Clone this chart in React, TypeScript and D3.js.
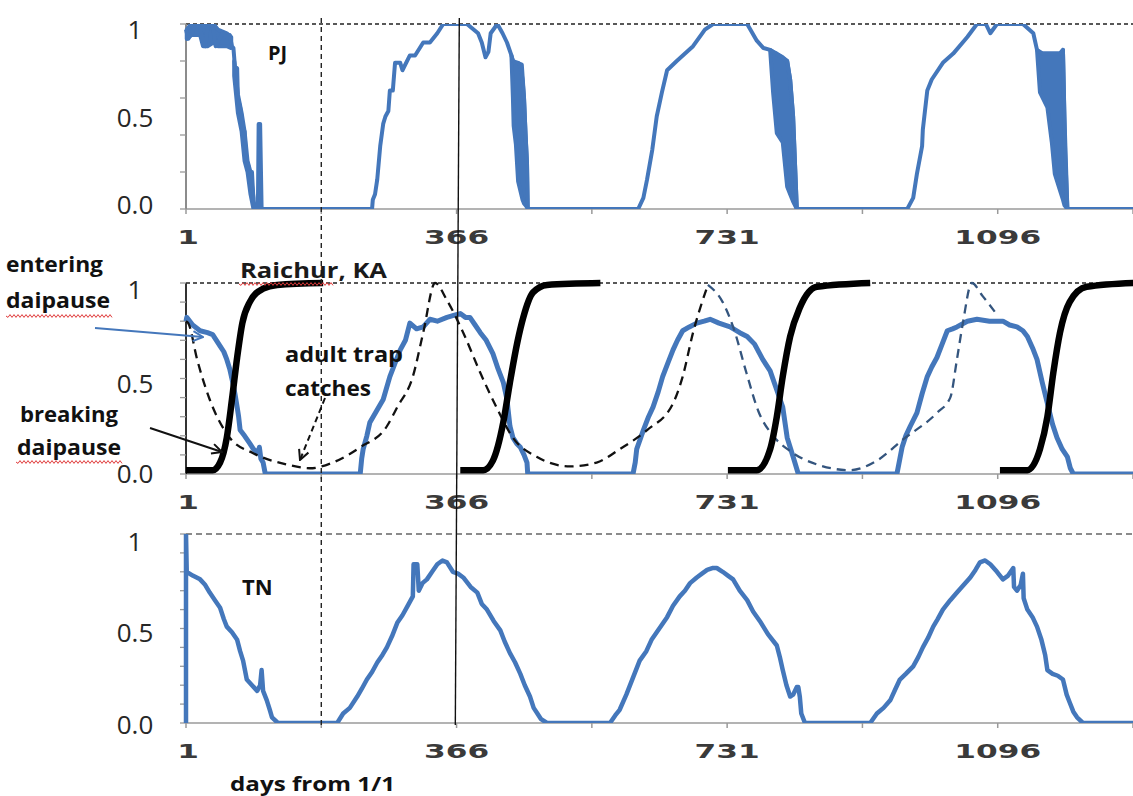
import React from "react";
import * as d3 from "d3";

type Pt = [number, number];
type Band = [number, number, number]; // day, low, high

// x = day counted from 1 Jan, y = fraction (0..1)

// PJ – blue series (upper trace)
const pjSeries: Pt[] = [
  [1, 0.97], [4, 0.92], [9, 0.95], [13, 1.0], [20, 0.98], [24, 0.9], [27, 0.88], [30, 0.98], [35, 1.0],
  [38, 0.97], [41, 0.88], [44, 0.9], [50, 0.95], [56, 0.93], [60, 0.94], [63, 0.88], [65, 0.87], [67, 0.77],
  [70, 0.76], [71, 0.6], [74, 0.55], [76, 0.5], [77, 0.43], [80, 0.42], [82, 0.26], [84, 0.25], [86, 0.22],
  [88, 0.12], [90, 0.2], [92, 0.05], [94, 0], [98, 0], [99, 0.46], [101, 0.46], [103, 0],
  [252, 0], [253, 0.05], [256, 0.08], [259, 0.16], [263, 0.34], [267, 0.46], [270, 0.5], [274, 0.53],
  [276, 0.64], [280, 0.64], [283, 0.79], [290, 0.79], [293, 0.75], [303, 0.83], [310, 0.83], [321, 0.9],
  [330, 0.9], [340, 0.95], [348, 1.0], [380, 1.0], [395, 0.95], [400, 0.9], [405, 0.82], [409, 0.85],
  [412, 0.95], [421, 1.0], [428, 0.95], [434, 0.9], [440, 0.83], [442, 0.8], [454, 0.78], [457, 0.6],
  [459, 0.41], [461, 0.25], [462, 0],
  [611, 0], [618, 0.06], [623, 0.16], [630, 0.32], [636, 0.5], [643, 0.63], [650, 0.75], [663, 0.8],
  [685, 0.88], [701, 0.97], [712, 1.0], [758, 1.0], [771, 0.91], [780, 0.87], [789, 0.86], [812, 0.8],
  [816, 0.7], [820, 0.5], [825, 0],
  [974, 0], [982, 0.06], [987, 0.19], [994, 0.34], [995, 0.43], [1001, 0.64], [1007, 0.7], [1022, 0.79],
  [1036, 0.84], [1055, 0.93], [1068, 1.0], [1080, 1.0], [1086, 0.95], [1095, 1.0], [1130, 1.0], [1144, 0.95],
  [1149, 0.86], [1157, 0.84], [1180, 0.84], [1184, 0.86], [1187, 0.3], [1190, 0], [1280, 0],
];

// PJ – noisy stretches where daily values swing between low and high
const pjBands: Band[][] = [
  [[2, 0.92, 0.97], [8, 0.94, 1.0], [20, 0.94, 1.0], [24, 0.88, 1.0], [30, 0.88, 1.0], [38, 0.9, 1.0], [44, 0.88, 0.97], [56, 0.88, 0.95], [62, 0.87, 0.93]],
  [[66, 0.72, 0.8], [71, 0.52, 0.62], [76, 0.42, 0.52], [80, 0.26, 0.42], [84, 0.2, 0.26], [88, 0.08, 0.2], [92, 0.0, 0.06]],
  [[440, 0.83, 0.83], [442, 0.6, 0.8], [443, 0.45, 0.8], [446, 0.35, 0.79], [449, 0.15, 0.79], [452, 0.1, 0.78], [455, 0.05, 0.7], [457, 0.03, 0.6], [459, 0.02, 0.41], [461, 0.01, 0.25], [462, 0, 0]],
  [[789, 0.86, 0.86], [793, 0.63, 0.85], [798, 0.41, 0.84], [806, 0.36, 0.82], [812, 0.12, 0.8], [816, 0.08, 0.7], [820, 0.04, 0.5], [825, 0, 0]],
  [[1149, 0.86, 0.86], [1153, 0.63, 0.84], [1163, 0.55, 0.84], [1169, 0.36, 0.84], [1173, 0.19, 0.84], [1180, 0.1, 0.84], [1184, 0.05, 0.86], [1186, 0.02, 0.5], [1190, 0, 0]],
];

// Raichur, KA – blue series
const raichurSeries: Pt[] = [
  [1, 0.8], [2, 0.82], [10, 0.78], [20, 0.75], [30, 0.74], [37, 0.73], [42, 0.7], [47, 0.67], [52, 0.64],
  [56, 0.6], [60, 0.55], [64, 0.48], [67, 0.42], [70, 0.35], [72, 0.3], [74, 0.23], [80, 0.2], [87, 0.16],
  [92, 0.13], [98, 0.11], [100, 0.14], [102, 0.08], [105, 0.06], [108, 0],
  [236, 0], [238, 0.08], [240, 0.13], [245, 0.2], [249, 0.27], [258, 0.33], [267, 0.39], [276, 0.51],
  [283, 0.58], [290, 0.65], [297, 0.7], [303, 0.79], [312, 0.76], [321, 0.77], [330, 0.81], [340, 0.8],
  [353, 0.82], [362, 0.83], [371, 0.84], [378, 0.82], [384, 0.82], [391, 0.78], [398, 0.74], [406, 0.7],
  [415, 0.63], [422, 0.55], [429, 0.48], [434, 0.39], [438, 0.25], [442, 0.19], [447, 0.16], [452, 0.14],
  [457, 0.1], [461, 0.06], [462, 0],
  [604, 0], [607, 0.06], [609, 0.13], [618, 0.23], [625, 0.3], [631, 0.35], [638, 0.43], [644, 0.51],
  [651, 0.58], [658, 0.65], [664, 0.7], [671, 0.75], [680, 0.77], [690, 0.79], [700, 0.8], [708, 0.81],
  [720, 0.79], [735, 0.77], [748, 0.74], [758, 0.72], [768, 0.68], [779, 0.6], [789, 0.54], [798, 0.44],
  [806, 0.35], [812, 0.19], [816, 0.14], [820, 0.09], [827, 0],
  [960, 0], [964, 0.08], [967, 0.14], [972, 0.2], [978, 0.25], [987, 0.32], [994, 0.42], [1001, 0.51],
  [1007, 0.56], [1014, 0.61], [1021, 0.68], [1028, 0.75], [1035, 0.76], [1041, 0.77], [1055, 0.8],
  [1068, 0.81], [1085, 0.8], [1103, 0.8], [1112, 0.78], [1122, 0.77], [1130, 0.75], [1136, 0.72],
  [1143, 0.66], [1149, 0.6], [1156, 0.48], [1163, 0.37], [1170, 0.26], [1176, 0.19], [1183, 0.13],
  [1190, 0.09], [1194, 0.03], [1198, 0], [1280, 0],
];

// adult trap catches (dashed), black part then blue-grey part
const trapCatchesA: Pt[] = [
  [1, 0.8], [4, 0.79], [16, 0.6], [33, 0.39], [60, 0.19], [91, 0.11], [137, 0.05], [168, 0.03], [199, 0.06],
  [236, 0.14], [272, 0.25], [286, 0.35], [307, 0.51], [321, 0.74], [337, 1.0], [353, 0.91], [375, 0.74],
  [398, 0.53], [421, 0.34], [442, 0.19], [474, 0.09], [519, 0.04], [555, 0.06], [586, 0.13], [623, 0.23],
  [658, 0.37], [671, 0.51], [685, 0.74], [705, 0.99],
];
const trapCatchesB: Pt[] = [
  [705, 0.99], [725, 0.9], [740, 0.76], [757, 0.53], [773, 0.33], [793, 0.2], [816, 0.12], [852, 0.05],
  [897, 0.02], [933, 0.07], [968, 0.18], [1014, 0.32], [1032, 0.4], [1041, 0.6], [1049, 0.79], [1061, 1.0],
  [1076, 0.93], [1092, 0.85],
];

// breaking diapause (thick black), one run per season
const breakingDiapause: Pt[][] = [
  [[1, 0.02], [37, 0.02], [47, 0.06], [56, 0.19], [63, 0.39], [70, 0.61], [77, 0.79], [87, 0.9], [105, 0.97], [124, 0.99], [186, 1.0]],
  [[371, 0.02], [402, 0.02], [415, 0.07], [429, 0.27], [438, 0.48], [448, 0.69], [456, 0.82], [469, 0.95], [488, 0.99], [560, 1.0]],
  [[732, 0.02], [771, 0.02], [789, 0.13], [798, 0.3], [806, 0.51], [816, 0.72], [829, 0.87], [852, 0.98], [924, 1.0]],
  [[1099, 0.02], [1136, 0.02], [1153, 0.13], [1163, 0.3], [1171, 0.53], [1180, 0.74], [1193, 0.9], [1216, 0.98], [1280, 1.0]],
];

// TN – blue series
const tnSeries: Pt[] = [
  [1, 0], [1, 1.0], [2, 0.8], [10, 0.78], [20, 0.76], [27, 0.73], [33, 0.69], [40, 0.65], [47, 0.61],
  [52, 0.55], [56, 0.51], [63, 0.48], [70, 0.44], [74, 0.38], [78, 0.33], [83, 0.23], [90, 0.2], [97, 0.17],
  [101, 0.2], [103, 0.28], [105, 0.17], [110, 0.12], [114, 0.07], [117, 0.03], [125, 0],
  [205, 0], [213, 0.05], [222, 0.08], [232, 0.14], [238, 0.18], [245, 0.23], [252, 0.27], [259, 0.32],
  [266, 0.36], [272, 0.4], [279, 0.46], [286, 0.53], [293, 0.57], [300, 0.62], [307, 0.67], [308, 0.84],
  [313, 0.84], [315, 0.7], [320, 0.74], [326, 0.76], [333, 0.8], [340, 0.84], [347, 0.86], [353, 0.85],
  [361, 0.8], [368, 0.79], [375, 0.77], [385, 0.72], [394, 0.69], [400, 0.63], [407, 0.6], [416, 0.54],
  [425, 0.49], [431, 0.43], [438, 0.37], [445, 0.32], [452, 0.26], [458, 0.2], [465, 0.14], [470, 0.08],
  [475, 0.05], [480, 0.02], [488, 0],
  [573, 0], [580, 0.04], [586, 0.07], [595, 0.15], [604, 0.24], [613, 0.33], [622, 0.38], [629, 0.44],
  [636, 0.48], [643, 0.52], [650, 0.56], [658, 0.62], [667, 0.67], [674, 0.7], [681, 0.74], [690, 0.77],
  [697, 0.79], [704, 0.81], [711, 0.82], [717, 0.82], [725, 0.8], [732, 0.78], [739, 0.76], [748, 0.7],
  [758, 0.65], [766, 0.59], [775, 0.54], [786, 0.47], [798, 0.41], [802, 0.35], [806, 0.28], [811, 0.2],
  [816, 0.14], [820, 0.15], [825, 0.19], [827, 0.19], [829, 0.14], [831, 0.05], [836, 0],
  [924, 0], [933, 0.05], [942, 0.08], [951, 0.12], [958, 0.18], [964, 0.23], [972, 0.26], [982, 0.3],
  [989, 0.35], [995, 0.4], [1002, 0.45], [1009, 0.51], [1015, 0.55], [1022, 0.6], [1032, 0.65], [1041, 0.69],
  [1050, 0.73], [1059, 0.77], [1066, 0.81], [1072, 0.85], [1079, 0.86], [1086, 0.84], [1095, 0.8],
  [1103, 0.76], [1110, 0.78], [1117, 0.82], [1118, 0.72], [1122, 0.7], [1127, 0.73], [1130, 0.79],
  [1131, 0.66], [1136, 0.6], [1143, 0.56], [1149, 0.51], [1155, 0.44], [1160, 0.36], [1163, 0.28],
  [1170, 0.26], [1177, 0.25], [1184, 0.23], [1189, 0.15], [1193, 0.11], [1198, 0.06], [1203, 0.03],
  [1211, 0], [1280, 0],
];

const xTickDays = [1, 183.5, 366, 548.5, 731, 913.5, 1096, 1278.5];
const xLabelDays = [1, 366, 731, 1096];
const yLabelValues = [0, 0.5, 1];
const yLabelTexts = ["0.0", "0.5", "1"];
const dashedMarkerDay = 183.5;
const solidMarkerDay = 367;

const BLUE = "#4477bb";
const W = 1133;
const H = 796;

const x = d3.scaleLinear().domain([1, 1278.5]).range([186, 1133]);

type PanelDef = {
  id: string;
  top: number;
  bottom: number;
  step: number;
  labelShift: number[];
  axisColor: string;
  refColor: string;
  refDash: string;
};

const panels: PanelDef[] = [
  { id: "pj", top: 24, bottom: 209, step: 0.2, labelShift: [-5, 0, 5], axisColor: "#8c8c8c", refColor: "#222", refDash: "4,3" },
  { id: "ka", top: 283, bottom: 474, step: 0.1, labelShift: [-1.5, 4, 6], axisColor: "#333", refColor: "#222", refDash: "4,3" },
  { id: "tn", top: 534, bottom: 723, step: 0.1, labelShift: [1, 3.5, 7], axisColor: "#8c8c8c", refColor: "#666", refDash: "6,4" },
];

function wavy(x1: number, x2: number, y: number) {
  let d = `M${x1},${y}`;
  let i = 0;
  for (let xx = x1 + 2; xx <= x2; xx += 2, i++) d += ` L${xx},${y + (i % 2 === 0 ? 1.4 : -1.4)}`;
  return d;
}

const Panel = ({ p, children }: { p: PanelDef; children: (y: d3.ScaleLinear<number, number>) => React.ReactNode }) => {
  const y = d3.scaleLinear().domain([0, 1]).range([p.bottom, p.top]);
  const minor = d3.range(0, 1.0001, p.step);
  return (
    <g>
      {/* reference line at 1 */}
      <line x1={186} x2={W} y1={y(1)} y2={y(1)} stroke={p.refColor} strokeWidth={1.3} strokeDasharray={p.refDash} />
      {/* axes */}
      <line x1={186} x2={W} y1={y(0)} y2={y(0)} stroke="#9a9a9a" strokeWidth={1.5} />
      <line x1={186} x2={186} y1={y(0)} y2={y(1)} stroke={p.axisColor} strokeWidth={2} />
      {minor.map((v) => (
        <line key={v} x1={180} x2={186} y1={y(v)} y2={y(v)} stroke="#9a9a9a" strokeWidth={1.3} />
      ))}
      {xTickDays.map((d) => (
        <line key={d} x1={x(d)} x2={x(d)} y1={y(0)} y2={y(0) + 5} stroke="#9a9a9a" strokeWidth={1.5} />
      ))}
      {yLabelValues.map((v, i) => (
        <text
          key={v}
          x={135}
          y={y(v) + p.labelShift[i]}
          textAnchor="middle"
          dominantBaseline="central"
          fontFamily="'Open Sans', sans-serif"
          fontSize={26}
          fill="#262626"
        >
          {yLabelTexts[i]}
        </text>
      ))}
      {xLabelDays.map((d) => {
        const s = String(d);
        return (
          <text
            key={d}
            x={x(d) + (d === 1 ? 2 : 0)}
            y={y(0) + 28}
            textAnchor="middle"
            dominantBaseline="central"
            fontFamily="'DejaVu Sans', sans-serif"
            fontWeight={700}
            fontSize={19}
            fill="#3a3a3a"
            textLength={s.length * 21.7}
            lengthAdjust="spacingAndGlyphs"
          >
            {s}
          </text>
        );
      })}
      <clipPath id={`clip-${p.id}`}>
        <rect x={182} y={p.top} width={W - 182} height={p.bottom - p.top} />
      </clipPath>
      {children(y)}
    </g>
  );
};

export default function App() {
  const lineOf = (y: d3.ScaleLinear<number, number>, curve: d3.CurveFactory = d3.curveLinear) =>
    d3.line<Pt>().x((d) => x(d[0])).y((d) => y(d[1])).curve(curve);
  const bandOf = (y: d3.ScaleLinear<number, number>) =>
    d3.area<Band>().x((d) => x(d[0])).y0((d) => y(d[1])).y1((d) => y(d[2]));

  const bold = { fontFamily: "'Open Sans', sans-serif", fontWeight: 700, fill: "#111" } as const;

  return (
    <div style={{ position: "absolute", left: 0, top: 0 }}>
      <svg width={W} height={H} style={{ display: "block", background: "#fff" }}>
        <defs>
          <marker id="arrBlack" viewBox="0 0 12 12" refX={11} refY={6} markerWidth={12} markerHeight={12} markerUnits="userSpaceOnUse" orient="auto">
            <path d="M1,1 L11,6 L1,11" fill="none" stroke="#111" strokeWidth={2} />
          </marker>
          <marker id="arrBlue" viewBox="0 0 12 12" refX={11} refY={6} markerWidth={12} markerHeight={12} markerUnits="userSpaceOnUse" orient="auto">
            <path d="M1,1 L11,6 L1,11" fill="none" stroke={BLUE} strokeWidth={2} />
          </marker>
        </defs>

        {/* PJ */}
        <Panel p={panels[0]}>
          {(y) => (
            <g>
              <g clipPath="url(#clip-pj)">
                {pjBands.map((b, i) => (
                  <path key={i} d={bandOf(y)(b) ?? ""} fill={BLUE} stroke={BLUE} strokeWidth={4} strokeLinejoin="round" />
                ))}
                <path d={lineOf(y)(pjSeries) ?? ""} fill="none" stroke={BLUE} strokeWidth={4} strokeLinejoin="round" />
              </g>
              <text x={268} y={60} fontSize={20} {...bold}>PJ</text>
            </g>
          )}
        </Panel>

        {/* Raichur, KA */}
        <Panel p={panels[1]}>
          {(y) => (
            <g>
              <path d={lineOf(y)(raichurSeries) ?? ""} fill="none" stroke={BLUE} strokeWidth={5} strokeLinejoin="round" clipPath="url(#clip-ka)" />
              <path d={lineOf(y, d3.curveMonotoneX)(trapCatchesA) ?? ""} fill="none" stroke="#111" strokeWidth={2.3} strokeDasharray="9,6" />
              <path d={lineOf(y, d3.curveMonotoneX)(trapCatchesB) ?? ""} fill="none" stroke="#34557e" strokeWidth={2.3} strokeDasharray="9,6" />
              {breakingDiapause.map((run, i) => (
                <path key={i} d={lineOf(y, d3.curveMonotoneX)(run) ?? ""} fill="none" stroke="#000" strokeWidth={6.5} />
              ))}
            </g>
          )}
        </Panel>

        {/* TN */}
        <Panel p={panels[2]}>
          {(y) => (
            <g>
              <path d={lineOf(y)(tnSeries) ?? ""} fill="none" stroke={BLUE} strokeWidth={4.5} strokeLinejoin="round" clipPath="url(#clip-tn)" />
              <text x={242} y={595} fontSize={22} {...bold}>TN</text>
            </g>
          )}
        </Panel>

        {/* season markers across panels */}
        <line x1={x(dashedMarkerDay)} x2={x(dashedMarkerDay)} y1={18} y2={727} stroke="#222" strokeWidth={1.4} strokeDasharray="5,4" />
        <line x1={x(solidMarkerDay) + 2} x2={x(solidMarkerDay) - 2} y1={18} y2={725} stroke="#111" strokeWidth={1.4} />

        {/* annotations */}
        <text x={240} y={278} fontSize={21} fontWeight={700} fontFamily="'Open Sans', sans-serif" fill="#1a1a1a" textLength={147} lengthAdjust="spacingAndGlyphs">Raichur, KA</text>
        <path d={wavy(239, 334, 284)} fill="none" stroke="#e03c3c" strokeWidth={1} />

        <text x={6} y={272} fontSize={22} textLength={97} lengthAdjust="spacingAndGlyphs" {...bold}>entering</text>
        <text x={6} y={308} fontSize={22} textLength={104} lengthAdjust="spacingAndGlyphs" {...bold}>daipause</text>
        <path d={wavy(6, 112, 316)} fill="none" stroke="#e03c3c" strokeWidth={1} />
        <line x1={95} y1={328} x2={203} y2={337} stroke={BLUE} strokeWidth={2} markerEnd="url(#arrBlue)" />

        <text x={20} y={422} fontSize={22} textLength={98} lengthAdjust="spacingAndGlyphs" {...bold}>breaking</text>
        <text x={17} y={455} fontSize={22} textLength={104} lengthAdjust="spacingAndGlyphs" {...bold}>daipause</text>
        <path d={wavy(16, 122, 462)} fill="none" stroke="#e03c3c" strokeWidth={1} />
        <line x1={150} y1={428} x2={222} y2={452} stroke="#111" strokeWidth={2} markerEnd="url(#arrBlack)" />

        <text x={285} y={362} fontSize={21} textLength={118} lengthAdjust="spacingAndGlyphs" {...bold}>adult trap</text>
        <text x={285} y={396} fontSize={21} textLength={86} lengthAdjust="spacingAndGlyphs" {...bold}>catches</text>
        <line x1={325} y1={398} x2={300} y2={460} stroke="#111" strokeWidth={2} strokeDasharray="6,4" markerEnd="url(#arrBlack)" />

        <text x={230} y={791} fontSize={20} textLength={165} lengthAdjust="spacingAndGlyphs" {...bold}>days from 1/1</text>
      </svg>
    </div>
  );
}
